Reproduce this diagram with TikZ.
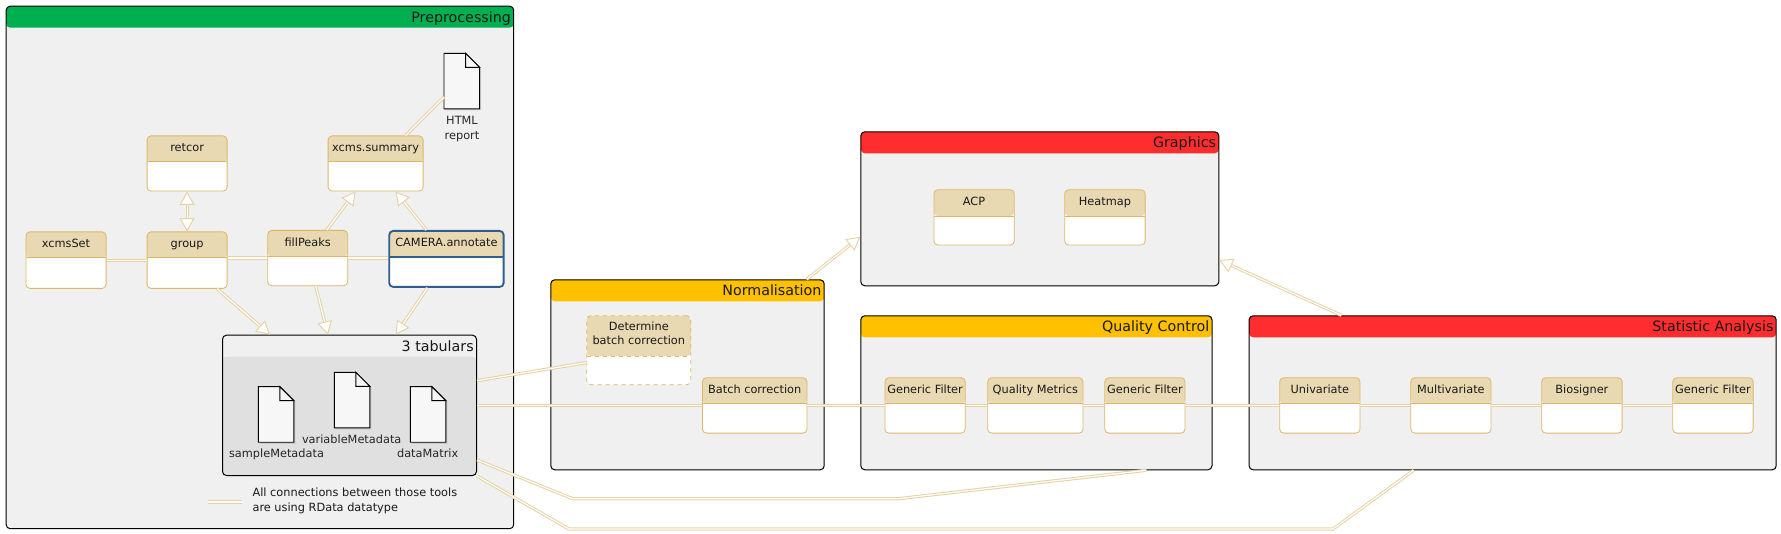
\documentclass[tikz,border=0pt]{standalone}
\usepackage{fontspec}
\setmainfont{DejaVu Sans}
\usetikzlibrary{calc,arrows.meta,shadows}
\definecolor{toolline}{HTML}{DDB767}
\definecolor{toolhead}{HTML}{E9D9B2}
\definecolor{linkline}{HTML}{E6D2A2}
\definecolor{pkgback}{HTML}{F0F0F0}
\definecolor{tabback}{HTML}{E0E0E0}
\definecolor{pkggreen}{HTML}{00B050}
\definecolor{pkgorange}{HTML}{FFC000}
\definecolor{pkgred}{HTML}{FF2D2D}
\definecolor{camblue}{HTML}{2F5F8F}
% tool box: [style] name, left, top, width, height, head height, text
\newcommand{\tool}[8][]{
  \node [toolbox, #1, minimum width=#5*0.75pt, minimum height=#6*0.75pt,
    path picture={\fill [toolhead] (path picture bounding box.north west) rectangle
      ($(path picture bounding box.north east)+(0,#7)$);
      \draw [toolline, #1] ($(path picture bounding box.north west)+(0,#7)$) --
      ($(path picture bounding box.north east)+(0,#7)$);}] (#2) at (#3,#4) {};
  \node [tooltext] (#2text) at ($(#2.north)+(0,#7/2)$) {#8};
}
% package box: name, left, top, width, height, head colour, title
\newcommand{\package}[7]{
  \node [pkgbox, minimum width=#4*0.75pt, minimum height=#5*0.75pt,
    path picture={\fill [#6] (path picture bounding box.north west) rectangle
      ($(path picture bounding box.north east)+(0,21.5)$);}] (#1) at (#2,#3) {};
  \node [pkgtitle] (#1title) at ($(#1.north east)+(-3,13)$) {#7};
}
% document icon: name, left, top
\newcommand{\docicon}[3]{
  \node [minimum width=35*0.75pt, minimum height=55*0.75pt, anchor=north west, inner sep=0pt] (#1) at (#2,#3) {};
  \draw [docbody, drop shadow={shadow xshift=1.2pt, shadow yshift=-1.2pt, opacity=0.22}]
    (#1.north west) -- ($(#1.north east)+(-14,0)$) -- ($(#1.north east)+(0,14)$) -- (#1.south east) -- (#1.south west) -- cycle;
  \draw [docbody] ($(#1.north east)+(-14,0)$) -- ($(#1.north east)+(-14,14)$) -- ($(#1.north east)+(0,14)$) -- cycle;
}
\begin{document}
\begin{tikzpicture}
[x=0.75pt, y=-0.75pt,
% STYLES
toolbox/.style={rectangle, draw=toolline, fill=white, line width=0.6pt, rounded corners=3pt, anchor=north west, inner sep=0pt},
tooltext/.style={font=\fontsize{8.5}{10.8}\selectfont, text=black!90, align=center, inner sep=0pt, execute at begin node=\strut, execute at end node=\strut},
pkgbox/.style={rectangle, draw=black, fill=pkgback, line width=0.75pt, rounded corners=3pt, anchor=north west, inner sep=0pt},
pkgtitle/.style={font=\fontsize{10.7}{13}\selectfont, text=black!90, anchor=east, inner sep=0pt, execute at begin node=\strut},
docbody/.style={draw=black, fill=black!3, line width=0.7pt},
doctext/.style={tooltext, text=black!85},
link/.style={draw=linkline, line width=0.75pt, double=white, double distance=0.9pt},
linkto/.style={link, -{Triangle[open, fill=white, length=10pt, width=11pt, line width=0.7pt]}},
linkboth/.style={link, {Triangle[open, fill=white, length=10pt, width=11pt, line width=0.7pt]}-{Triangle[open, fill=white, length=10pt, width=11pt, line width=0.7pt]}}]

\useasboundingbox (0,0) rectangle (1781,534);

% Draw packages
\package{preproc}{5.7}{5.7}{507.5}{522.5}{pkggreen}{Preprocessing}
\package{norm}{550.3}{279.3}{273.4}{190}{pkgorange}{Normalisation}
\package{graphics}{860.3}{131.3}{358}{154}{pkgred}{Graphics}
\package{qc}{860.3}{315.3}{351.2}{154}{pkgorange}{Quality Control}
\package{stats}{1248.6}{315.3}{527.1}{154}{pkgred}{Statistic Analysis}

% Draw tabulars group
\node [pkgbox, minimum width=254*0.75pt, minimum height=140.3*0.75pt,
  path picture={\fill [tabback] ($(path picture bounding box.north west)+(0,21.5)$) rectangle (path picture bounding box.south east);}] (tabs) at (222,334.7) {};
\node [pkgtitle] (tabstitle) at ($(tabs.north east)+(-3,13)$) {3 tabulars};

% Draw documents
\docicon{htmldoc}{444}{53.3}
\node [doctext] (htmltext) at (462,130) {HTML\\report};
\docicon{samplemeta}{258.3}{386.7}
\node [doctext] (sampletext) at (276.5,454.7) {sampleMetadata};
\docicon{varmeta}{334.3}{372.3}
\node [doctext] (vartext) at (351.7,440.3) {variableMetadata};
\docicon{datamatrix}{410.3}{386.7}
\node [doctext] (datatext) at (427.7,454.7) {dataMatrix};

% Draw tools
\tool{xcmsset}{25.5}{231.5}{80.2}{56.5}{26}{xcmsSet}
\tool{group}{146.7}{231.5}{80}{56.5}{26}{group}
\tool{retcor}{146.7}{135.5}{80}{55.2}{26}{retcor}
\tool{summary}{327.7}{135.5}{95}{55.2}{26}{xcms.summary}
\tool{fillpeaks}{267.3}{230}{80}{55.3}{26.3}{fillPeaks}
\tool[draw=camblue, line width=1.4pt]{camera}{388.3}{230}{114.4}{56}{26.3}{CAMERA.annotate}
\tool[dashed]{determine}{586.4}{315.3}{104}{69}{40.4}{Determine\\batch correction}
\tool{batch}{702}{377.3}{104.6}{55.4}{26}{Batch correction}
\tool{acp}{933.5}{189.3}{80.3}{55.4}{26.4}{ACP}
\tool{heatmap}{1064.3}{189.3}{80.4}{55.4}{26.4}{Heatmap}
\tool{filterA}{884.5}{377.3}{80.3}{55.4}{26}{Generic Filter}
\tool{metrics}{987.3}{377.3}{95.3}{55.4}{26}{Quality Metrics}
\tool{filterB}{1104.4}{377.3}{80.2}{55.4}{26}{Generic Filter}
\tool{univar}{1279.3}{377.3}{80.3}{55.4}{26}{Univariate}
\tool{multivar}{1410.4}{377.3}{80.2}{55.4}{26}{Multivariate}
\tool{biosigner}{1541.3}{377.3}{80.4}{55.4}{26}{Biosigner}
\tool{filterC}{1672.3}{377.3}{80.4}{55.4}{26}{Generic Filter}

% Draw connections
\draw [link] (xcmsset) -- (group);
\draw [link] (group.east |- fillpeaks.west) -- (fillpeaks.west);
\draw [link] (fillpeaks) -- (camera.west |- fillpeaks.east);
\draw [linkboth] (retcor) -- (group);
\draw [linkto] ($(fillpeaks.north)+(19,0)$) -- ($(summary.south)+(-20,0)$);
\draw [linkto] ($(camera.north)+(-20,0)$) -- ($(summary.south)+(20,0)$);
\draw [link] ($(summary.north)+(30,0)$) -- ($(htmldoc.west)+(0,16)$);
\draw [linkto] ($(group.south)+(30,0)$) -- ($(tabs.north west)+(48,0)$);
\draw [linkto] ($(fillpeaks.south)+(8,0)$) -- ($(tabs.north west)+(106,0)$);
\draw [linkto] ($(camera.south)+(-19,0)$) -- ($(tabs.north west)+(173.7,0)$);

\draw [link] ($(tabs.north east)+(0,46)$) -- ($(determine.south west)+(0,-22.5)$);
\draw [link] (tabs.east |- batch.west) -- (batch.west);
\draw [link] (batch) -- (filterA);
\draw [link] (filterA) -- (metrics);
\draw [link] (metrics) -- (filterB);
\draw [link] (filterB) -- (univar);
\draw [link] (univar) -- (multivar);
\draw [link] (multivar) -- (biosigner);
\draw [link] (biosigner) -- (filterC);

\coordinate (qcbendA) at (572.7,498.7);
\coordinate (qcbendB) at (898.3,498.7);
\coordinate (statsbendA) at (569,529);
\coordinate (statsbendB) at (1333,529);
\draw [link] ($(tabs.south east)+(0,-16)$) -- (qcbendA) -- (qcbendB) -- ($(qc.south west)+(286,0)$);
\draw [link] (tabs.south east) -- (statsbendA) -- (statsbendB) -- ($(stats.south west)+(165,0)$);

\draw [linkto] ($(norm.north east)+(-18,0)$) -- ($(graphics.north west)+(0,105.4)$);
\draw [linkto] ($(stats.north west)+(92.7,0)$) -- ($(graphics.north east)+(0,128.7)$);

% Draw legend
\node [tooltext, align=left, anchor=west] (legend) at (252.3,502) {All connections between those tools\\are using RData datatype};
\coordinate (legendstart) at (208.3,502);
\coordinate (legendend) at (241.7,502);
\draw [link] (legendstart) -- (legendend);
\end{tikzpicture}
\end{document}
